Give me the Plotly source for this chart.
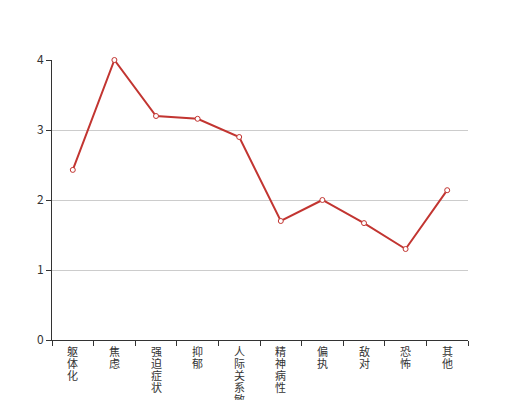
import plotly.graph_objects as go

categories = ["躯体化", "焦虑", "强迫症状", "抑郁", "人际关系敏感", "精神病性", "偏执", "敌对", "恐怖", "其他"]
values = [2.43, 4.0, 3.2, 3.16, 2.9, 1.7, 2.0, 1.67, 1.3, 2.14]
y_ticks = [0, 1, 2, 3, 4]

fig = go.Figure()
fig.add_trace(go.Scatter(
    x=categories, y=values, mode="lines+markers",
    line=dict(color="#c23531", width=2),
    marker=dict(symbol="circle", size=5, color="white", line=dict(color="#c23531", width=1)),
    showlegend=False, cliponaxis=False,
))

# vertical category labels: one character per row, stacked under each category
for cat in categories:
    for i, ch in enumerate(cat):
        fig.add_annotation(
            x=cat, xref="x", y=0, yref="paper", yanchor="top", xanchor="center",
            yshift=-(2 + 12 * i), text=ch, showarrow=False,
            font=dict(size=11, color="#333"), borderpad=0,
        )

fig.update_layout(
    width=520, height=400,
    margin=dict(l=44, r=60, t=52, b=68, autoexpand=False),
    paper_bgcolor="white", plot_bgcolor="white",
    font=dict(family="Noto Sans CJK SC, sans-serif", size=12, color="#333"),
    xaxis=dict(
        type="category", range=[-0.5, 9.5], automargin=False,
        tickson="boundaries", ticks="outside", ticklen=5, tickcolor="#333",
        showline=True, linecolor="#333", linewidth=1,
        showgrid=False, showticklabels=False,
    ),
    yaxis=dict(
        range=[0, 4], tickvals=y_ticks, automargin=False,
        ticks="outside", ticklen=5, tickcolor="#333",
        showline=True, linecolor="#333", linewidth=1,
        showgrid=True, gridcolor="#ccc", zeroline=False,
        tickfont=dict(size=12, color="#333"),
    ),
)

fig.write_html("out.html")
